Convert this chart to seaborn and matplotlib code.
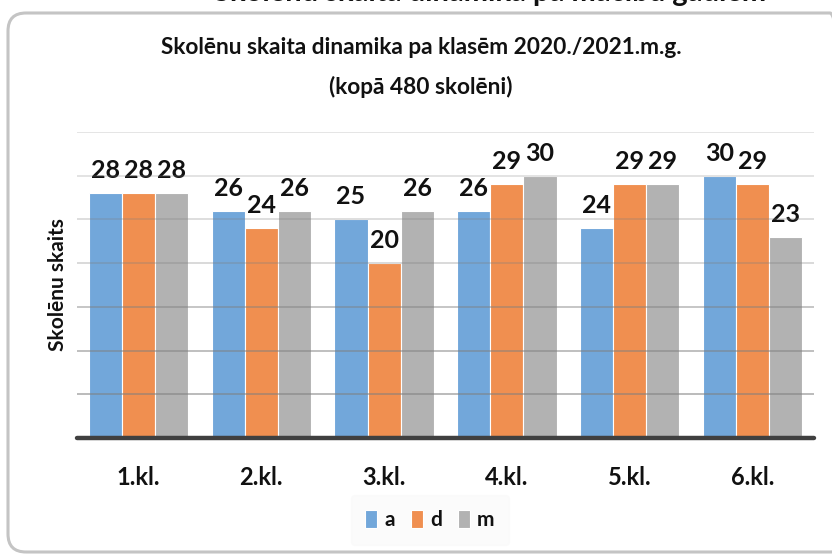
import pandas as pd
import numpy as np
import matplotlib
matplotlib.use("Agg")
import matplotlib.pyplot as plt
import seaborn as sns
from matplotlib.patches import FancyBboxPatch
from matplotlib.transforms import IdentityTransform

sns.set_theme(style="white")
plt.rcParams['font.family'] = ['Lato', 'DejaVu Sans']
plt.rcParams['font.weight'] = 'bold'

# ============================================
# Data
# ============================================

klases = ["1.kl.", "2.kl.", "3.kl.", "4.kl.", "5.kl.", "6.kl."]
grupas = ["a", "d", "m"]
a_vals = [28, 26, 25, 26, 24, 30]
d_vals = [28, 24, 20, 29, 29, 29]
m_vals = [28, 26, 26, 30, 29, 23]

krasas = ["#72A7DA", "#F08F50", "#B2B2B2"]

df = pd.DataFrame({
    "klase": klases * 3,
    "grupa": [grupas[0]] * 6 + [grupas[1]] * 6 + [grupas[2]] * 6,
    "skaits": a_vals + d_vals + m_vals,
})

# ============================================
# Figure
# ============================================

W, H = 832, 557
fig = plt.figure(figsize=(W / 100, H / 100), dpi=100)
ax = fig.add_axes([77 / W, 1 - 438 / H, (814 - 77) / W, (438 - 132) / H])

sns.barplot(data=df, x="klase", y="skaits", hue="grupa", palette=krasas,
            saturation=1, width=0.81, edgecolor="white", linewidth=0.8,
            ax=ax, legend=True)

ax.set_ylim(0, 35)
ax.set_yticks([])
ax.set_xlabel("")
ax.set_ylabel("")
for s in ax.spines.values():
    s.set_visible(False)

# gridlines drawn on top of bars (as in the original)
grid_alpha = {5: 0.62, 10: 0.58, 15: 0.52, 20: 0.34, 25: 0.3, 30: 0.26, 35: 0.24}
for yv, al in grid_alpha.items():
    ax.axhline(yv, color="#7f7f7f", alpha=al, lw=1.2, zorder=5)
ax.axhline(0, color="#404040", lw=3.2, zorder=6, clip_on=False)

for cont in ax.containers:
    ax.bar_label(cont, padding=8, fontsize=18, fontweight="bold", color="#111111")

ax.tick_params(axis="x", length=0, pad=20, labelsize=17, labelcolor="#111111")

fig.text(58 / W, 1 - 285 / H, "Skolēnu skaits", rotation=90, ha="center",
         va="center", fontsize=15, fontweight="bold", color="#111111")

# titles
fig.text(421 / W, 1 - 47 / H, "Skolēnu skaita dinamika pa klasēm 2020./2021.m.g.",
         ha="center", va="center", fontsize=16.3, fontweight="bold", color="#111111")
fig.text(421 / W, 1 - 87 / H, "(kopā 480 skolēni)",
         ha="center", va="center", fontsize=16.3, fontweight="bold", color="#111111")

# heading cut off at the top of the screenshot
fig.text(490 / W, 1 - 1 / H, "Skolēnu skaita dinamika pa mācību gadiem",
         ha="center", va="baseline", fontsize=21, fontweight="bold", color="#111111")

# legend
handles, labels = ax.get_legend_handles_labels()
leg = ax.legend(handles, labels, loc="center", bbox_to_anchor=(430 / W, 1 - 520 / H),
                bbox_transform=fig.transFigure, ncol=3, frameon=True,
                fontsize=15, handlelength=0.55, handleheight=1.0,
                handletextpad=0.35, columnspacing=0.8, borderpad=0.7)
leg.get_frame().set_facecolor("#fafafa")
leg.get_frame().set_edgecolor("#fafafa")
for t in leg.get_texts():
    t.set_fontweight("bold")
    t.set_color("#111111")

# rounded chart border
border = FancyBboxPatch((8, 5), 840, 539, boxstyle="round,pad=0,rounding_size=18",
                        transform=IdentityTransform(), facecolor="none",
                        edgecolor="#c4c4c4", lw=2.2, zorder=-1)
fig.patches.append(border)

fig.savefig("out.png", dpi=100)
